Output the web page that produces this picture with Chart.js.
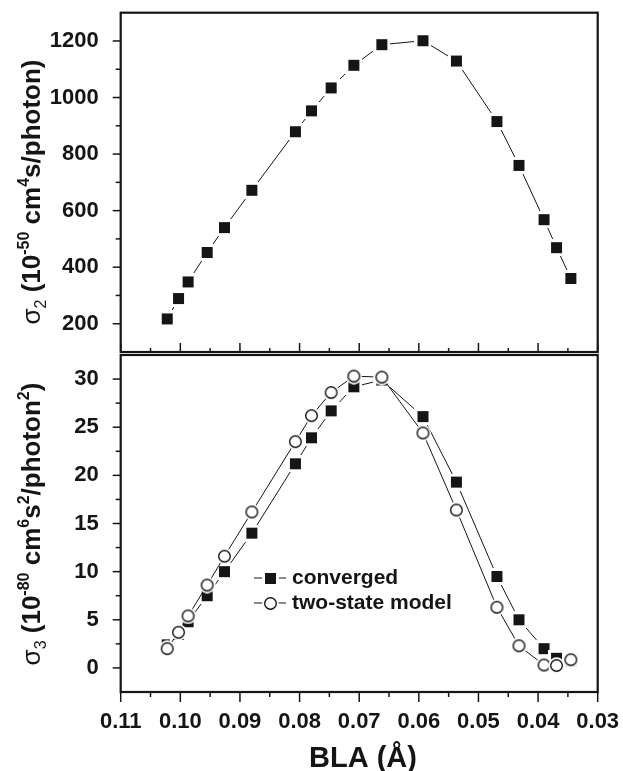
<!DOCTYPE html>
<html>
<head>
<meta charset="utf-8">
<script src="https://cdn.jsdelivr.net/npm/chart.js@4.4.1/dist/chart.umd.min.js"></script>
<style>
  html, body { margin: 0; padding: 0; background: #fff; }
  #wrap { position: relative; width: 623px; height: 771px; overflow: hidden; }
  canvas { position: absolute; left: 0; }
  #top { top: 0; }
  #bottom { top: 346px; }
</style>
</head>
<body>
<div id="wrap">
  <canvas id="top" width="623" height="361"></canvas>
  <canvas id="bottom" width="623" height="425"></canvas>
</div>
<script>
// ---- data ----
const bla = [0.1022, 0.1003, 0.0987, 0.0955, 0.0926, 0.0880, 0.0807, 0.0780, 0.0747,
             0.0709, 0.0662, 0.0593, 0.0537, 0.0469, 0.0432, 0.0390, 0.0369, 0.0345];
const sigma2 = [217, 289, 348, 452, 540, 672, 879, 953, 1034,
                1114, 1187, 1201, 1129, 915, 760, 568, 469, 360];
const sigma3Converged = [2.4, 3.5, 4.8, 7.5, 10.0, 14.0, 21.2, 23.9, 26.7,
                         29.2, 29.9, 26.1, 19.3, 9.5, 5.0, 2.0, 1.0, 0.75];
const sigma3TwoState = [2.0, 3.7, 5.4, 8.6, 11.6, 16.2, 23.5, 26.2, 28.6,
                        30.3, 30.2, 24.4, 16.4, 6.3, 2.3, 0.3, 0.25, 0.85];
const blaTicks = [0.11, 0.10, 0.09, 0.08, 0.07, 0.06, 0.05, 0.04, 0.03];
const sigma2Ticks = [200, 400, 600, 800, 1000, 1200];
const sigma3Ticks = [0, 5, 10, 15, 20, 25, 30];
const legendLabels = ['converged', 'two-state model'];

const FONT = '"Liberation Sans", Arial, Helvetica, sans-serif';
const INK = '#151515';

function pts(ys) { return bla.map((x, i) => ({ x: x, y: ys[i] })); }

// ---- markers ----
function squareMarker() {
  const c = document.createElement('canvas'); c.width = c.height = 17;
  const g = c.getContext('2d');
  g.fillStyle = '#fff'; g.fillRect(0, 0, 17, 17);
  g.fillStyle = INK; g.fillRect(3, 3, 11, 11);
  return c;
}
function circleMarker() {
  const c = document.createElement('canvas'); c.width = c.height = 17;
  const g = c.getContext('2d');
  g.fillStyle = '#fff'; g.beginPath(); g.arc(8.5, 8.5, 8.3, 0, 2 * Math.PI); g.fill();
  g.beginPath(); g.arc(8.5, 8.5, 5.8, 0, 2 * Math.PI);
  g.lineWidth = 1.4; g.strokeStyle = INK; g.stroke();
  return c;
}
const SQ = squareMarker();
const CI = circleMarker();

// ---- helpers ----
function line(ctx, x1, y1, x2, y2) { ctx.beginPath(); ctx.moveTo(x1, y1); ctx.lineTo(x2, y2); ctx.stroke(); }
function minorsOf(ticks, min, max) {
  const step = ticks[1] - ticks[0];
  const out = [];
  for (let i = -1; i < ticks.length; i++) {
    const v = (i < 0 ? ticks[0] - step / 2 : ticks[i] + step / 2);
    if (v > Math.min(min, max) + 1e-9 && v < Math.max(min, max) - 1e-9) out.push(v);
  }
  return out;
}
function drawRich(ctx, segs, cx, cy) {
  ctx.save();
  let total = 0;
  segs.forEach(s => { ctx.font = s.f; s.w = ctx.measureText(s.t).width; total += s.w; });
  ctx.translate(cx, cy); ctx.rotate(-Math.PI / 2);
  ctx.textBaseline = 'alphabetic'; ctx.textAlign = 'left'; ctx.fillStyle = INK;
  let x = -total / 2;
  segs.forEach(s => { ctx.font = s.f; ctx.fillText(s.t, x, s.dy || 0); x += s.w; });
  ctx.restore();
}
const B26 = 'bold 26px ' + FONT, R26 = '26px ' + FONT, B16 = 'bold 16px ' + FONT, R16 = '16px ' + FONT;

const frameTicks = {
  id: 'frameTicks',
  afterDraw(chart, args, o) {
    const { ctx, chartArea: a, scales: { x, y } } = chart;
    ctx.save();
    ctx.strokeStyle = INK;
    ctx.lineWidth = 1.5;
    o.yTicks.forEach(v => { const p = y.getPixelForValue(v); line(ctx, a.left - 8, p, a.left, p); });
    minorsOf(o.yTicks, y.min, y.max).forEach(v => { const p = y.getPixelForValue(v); line(ctx, a.left - 5, p, a.left, p); });
    const dir = o.xInward ? -1 : 1;
    blaTicks.forEach(v => { const p = x.getPixelForValue(v); line(ctx, p, a.bottom, p, a.bottom + dir * o.xMajor); });
    minorsOf(blaTicks, x.min, x.max).forEach(v => { const p = x.getPixelForValue(v); line(ctx, p, a.bottom, p, a.bottom + dir * o.xMinor); });
    ctx.lineWidth = 2.2;
    ctx.strokeRect(a.left, a.top, a.right - a.left, a.bottom - a.top);
    ctx.restore();
    if (o.extra) o.extra(chart);
  }
};

function zeroPad(s) { s.paddingTop = 0; s.paddingBottom = 0; s.paddingLeft = 0; s.paddingRight = 0; }

function baseOptions(yMin, yMax, yTicks, pad) {
  return {
    responsive: false, animation: false, events: [],
    layout: { padding: pad },
    plugins: { legend: { display: false }, tooltip: { enabled: false } },
    scales: {
      x: {
        type: 'linear', min: 0.03, max: 0.11, reverse: true,
        grid: { display: false }, border: { display: false },
        afterBuildTicks: s => { s.ticks = blaTicks.map(v => ({ value: v })); },
        ticks: { color: INK, font: { family: FONT, size: 22, weight: 'bold' }, padding: 9,
                 maxRotation: 0, autoSkip: false, callback: v => Number(v).toFixed(2) }
      },
      y: {
        type: 'linear', min: yMin, max: yMax,
        grid: { display: false }, border: { display: false },
        afterBuildTicks: s => { s.ticks = yTicks.map(v => ({ value: v })); },
        afterFit: s => { s.width = 120.7; zeroPad(s); },
        ticks: { color: INK, font: { family: FONT, size: 22, weight: 'bold' }, padding: 14,
                 callback: v => String(v) }
      }
    }
  };
}

// ---- top chart: sigma2 ----
const topOpts = baseOptions(100, 1300, sigma2Ticks, { top: 12.7, right: 25.3, bottom: 0, left: 0 });
topOpts.scales.x.ticks.display = false;
topOpts.scales.x.afterFit = s => { s.height = 0; zeroPad(s); };
topOpts.plugins.frameTicks = {
  yTicks: sigma2Ticks, xInward: true, xMajor: 9, xMinor: 4,
  extra: chart => {
    drawRich(chart.ctx, [
      { t: 'σ', f: R26 }, { t: '2', f: R16, dy: 6 },
      { t: ' (10', f: B26 }, { t: '-50', f: B16, dy: -11 },
      { t: ' cm', f: B26 }, { t: '4', f: B16, dy: -11 },
      { t: 's/photon)', f: B26 }
    ], 40, 192);
  }
};
new Chart(document.getElementById('top'), {
  type: 'line',
  data: { datasets: [{
    label: 'σ2', data: pts(sigma2), borderColor: INK, borderWidth: 1, tension: 0,
    pointStyle: SQ, pointRadius: 8, fill: false
  }] },
  options: topOpts,
  plugins: [frameTicks]
});

// ---- bottom chart: sigma3 ----
const botOpts = baseOptions(-2.5, 32.5, sigma3Ticks, { top: 3, right: 25.3, bottom: 0, left: 0 });
botOpts.scales.x.afterFit = s => { s.height = 79; zeroPad(s); };
botOpts.plugins.frameTicks = {
  yTicks: sigma3Ticks, xInward: false, xMajor: 10, xMinor: 5,
  extra: chart => {
    const ctx = chart.ctx;
    drawRich(ctx, [
      { t: 'σ', f: R26 }, { t: '3', f: R16, dy: 6 },
      { t: ' (10', f: B26 }, { t: '-80', f: B16, dy: -11 },
      { t: ' cm', f: B26 }, { t: '6', f: B16, dy: -11 },
      { t: 's', f: B26 }, { t: '2', f: B16, dy: -11 },
      { t: '/photon', f: B26 }, { t: '2', f: B16, dy: -11 },
      { t: ')', f: B26 }
    ], 40, 524 - 346);
    ctx.save();
    ctx.fillStyle = INK; ctx.font = 'bold 29px ' + FONT;
    ctx.textAlign = 'center'; ctx.textBaseline = 'alphabetic';
    ctx.fillText('BLA (Å)', 363, 767 - 346);
    const rows = [{ m: SQ, y: 578 - 346 }, { m: CI, y: 603 - 346 }];
    ctx.font = 'bold 21px ' + FONT; ctx.textAlign = 'left'; ctx.textBaseline = 'middle';
    ctx.strokeStyle = INK; ctx.lineWidth = 1;
    rows.forEach((r, i) => {
      line(ctx, 254, r.y, 286, r.y);
      ctx.drawImage(r.m, Math.round(270 - r.m.width / 2), Math.round(r.y - r.m.height / 2));
      ctx.fillText(legendLabels[i], 292, r.y);
    });
    ctx.restore();
  }
};
new Chart(document.getElementById('bottom'), {
  type: 'line',
  data: { datasets: [
    { label: legendLabels[1], data: pts(sigma3TwoState), borderColor: INK, borderWidth: 1, tension: 0,
      pointStyle: CI, pointRadius: 8, fill: false, order: 0 },
    { label: legendLabels[0], data: pts(sigma3Converged), borderColor: INK, borderWidth: 1, tension: 0,
      pointStyle: SQ, pointRadius: 8, fill: false, order: 1 }
  ] },
  options: botOpts,
  plugins: [frameTicks]
});
</script>
</body>
</html>
